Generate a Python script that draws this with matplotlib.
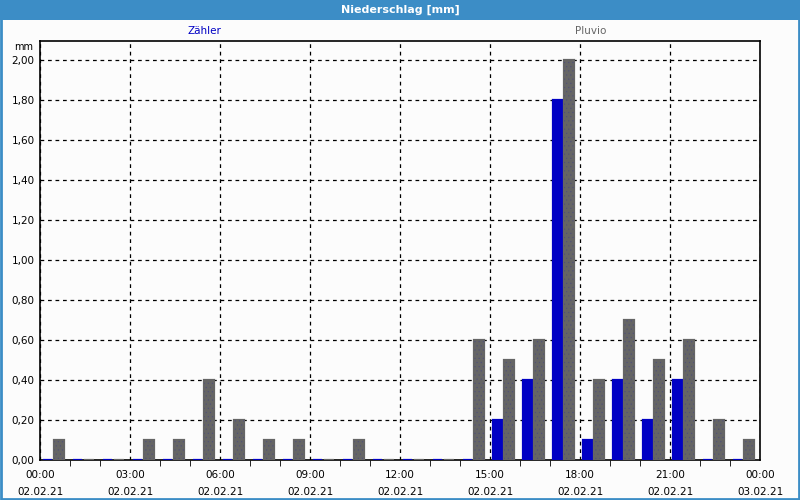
import numpy as np
import matplotlib.pyplot as plt
from matplotlib.patches import Rectangle
from matplotlib.ticker import FuncFormatter, MultipleLocator

hours = list(range(24))
zaehler = [0, 0, 0, 0, 0, 0, 0, 0, 0, 0, 0, 0, 0, 0, 0,
           0.20, 0.40, 1.80, 0.10, 0.40, 0.20, 0.40, 0, 0]
pluvio = [0.10, 0, 0, 0.10, 0.10, 0.40, 0.20, 0.10, 0.10, 0, 0.10, 0, 0, 0, 0.60,
          0.50, 0.60, 2.00, 0.40, 0.70, 0.50, 0.60, 0.20, 0.10]
xtick_labels = ["00:00\n02.02.21", "03:00\n02.02.21", "06:00\n02.02.21", "09:00\n02.02.21",
                "12:00\n02.02.21", "15:00\n02.02.21", "18:00\n02.02.21", "21:00\n02.02.21",
                "00:00\n03.02.21"]

blue = '#0000c4'
gray = '#656565'
frame_blue = '#3c8dc6'

plt.rcParams['hatch.linewidth'] = 0.3

fig = plt.figure(figsize=(8, 5), dpi=100)
fig.patch.set_facecolor('#fcfcfc')

# title bar and window border
fig.patches.append(Rectangle((0, 0.96), 1, 0.04, transform=fig.transFigure,
                             facecolor=frame_blue, edgecolor='none'))
fig.patches.append(Rectangle((0.001, 0.002), 0.998, 0.996, transform=fig.transFigure,
                             facecolor='none', edgecolor=frame_blue, linewidth=2))
fig.text(0.5, 0.98, "Niederschlag [mm]", color='white', fontsize=8, fontweight='bold',
         ha='center', va='center')

ax = fig.add_axes([0.05, 0.08, 0.90, 0.838])
ax.set_facecolor('#fcfcfc')

x = np.array(hours)
ax.bar(x + 0.25, zaehler, width=0.30, color=blue, edgecolor=blue, linewidth=1.6, zorder=3)
ax.bar(x + 0.633, pluvio, width=0.31, color=gray, edgecolor=gray, linewidth=1.6, zorder=3)
ax.bar(x + 0.633, pluvio, width=0.31, color='none', edgecolor='#50507a', linewidth=0,
       hatch='....', zorder=4)

ax.set_xlim(0, 24)
ax.set_ylim(0, 2.095)
ax.set_xticks(range(0, 25, 3))
ax.set_xticklabels(xtick_labels, fontsize=7.5)
ax.xaxis.set_minor_locator(MultipleLocator(1))
ax.set_yticks(np.arange(0, 2.01, 0.2))
ax.yaxis.set_major_formatter(FuncFormatter(lambda v, p: f"{v:.2f}".replace('.', ',')))
ax.tick_params(axis='y', labelsize=7.5, length=0, pad=4)
ax.tick_params(axis='x', which='major', length=0, pad=7)
ax.tick_params(axis='x', which='minor', length=4, direction='out')
for lbl in ax.get_xticklabels():
    lbl.set_linespacing(1.9)

ax.grid(True, which='major', color='black', linestyle=(0, (3, 3)), linewidth=0.9, zorder=1)
for s in ax.spines.values():
    s.set_linewidth(1.2)
    s.set_color('black')
    s.set_zorder(2)

fig.text(0.03, 0.907, "mm", fontsize=7, ha='center', va='center')
fig.text(0.256, 0.937, "Zähler", color=blue, fontsize=7.5, ha='center', va='center')
fig.text(0.738, 0.937, "Pluvio", color=gray, fontsize=7.5, ha='center', va='center')

fig.savefig('out.png', dpi=100, facecolor=fig.get_facecolor())
